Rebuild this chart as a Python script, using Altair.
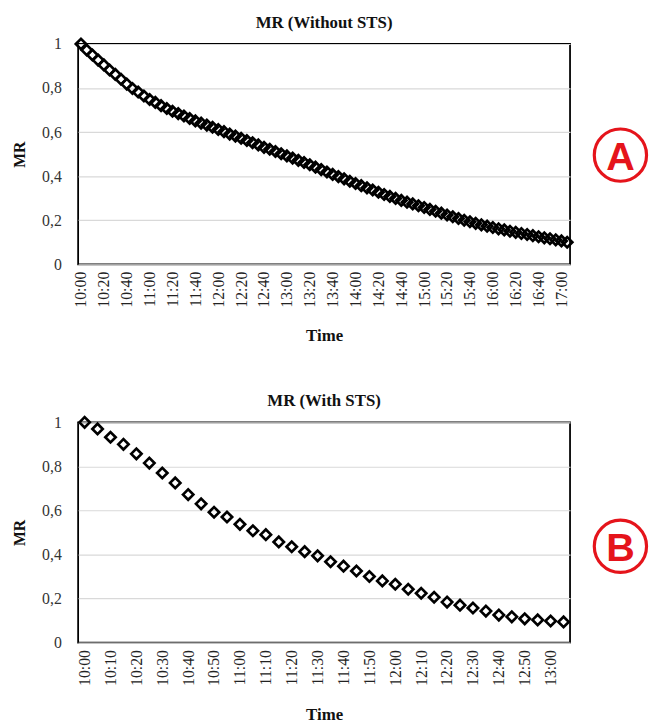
import altair as alt
import pandas as pd

# Panel A: MR without STS, 5-minute readings 10:00 - 17:05
times_a = [f"{10 + m // 60}:{m % 60:02d}" for m in range(0, 430, 5)]
mr_a = [1.000, 0.973, 0.950, 0.927, 0.905, 0.882, 0.862, 0.840, 0.818, 0.798,
        0.782, 0.764, 0.748, 0.735, 0.720, 0.707, 0.695, 0.684, 0.673, 0.662,
        0.651, 0.641, 0.632, 0.622, 0.612, 0.602, 0.591, 0.582, 0.572, 0.562,
        0.552, 0.542, 0.531, 0.522, 0.512, 0.502, 0.492, 0.482, 0.472, 0.462,
        0.452, 0.441, 0.430, 0.419, 0.408, 0.398, 0.388, 0.377, 0.367, 0.357,
        0.347, 0.337, 0.327, 0.317, 0.308, 0.299, 0.290, 0.282, 0.274, 0.266,
        0.258, 0.249, 0.241, 0.232, 0.224, 0.216, 0.208, 0.200, 0.193, 0.186,
        0.179, 0.173, 0.167, 0.161, 0.156, 0.150, 0.145, 0.140, 0.135, 0.130,
        0.125, 0.120, 0.116, 0.111, 0.106, 0.100]

# Panel B: MR with STS, 5-minute readings 10:00 - 13:05
times_b = [f"{10 + m // 60}:{m % 60:02d}" for m in range(0, 190, 5)]
mr_b = [1.000, 0.970, 0.932, 0.900, 0.857, 0.815, 0.770, 0.725, 0.672, 0.630,
        0.592, 0.570, 0.537, 0.508, 0.490, 0.457, 0.435, 0.413, 0.394, 0.367,
        0.347, 0.325, 0.300, 0.280, 0.265, 0.242, 0.224, 0.206, 0.184, 0.170,
        0.157, 0.143, 0.125, 0.117, 0.108, 0.103, 0.098, 0.094]

y_ticks = [0, 0.2, 0.4, 0.6, 0.8, 1.0]
SERIF = "Liberation Serif"
W, H = 498, 223
RED = "#e5141b"


def panel(times, mr, title, label_every, letter, ring_y):
    df = pd.DataFrame({"Time": times, "MR": mr})
    pts = alt.Chart(df).mark_point(
        shape="diamond", filled=False, color="black", strokeWidth=2.7, size=110, opacity=1
    ).encode(
        x=alt.X("Time:O", sort=None,
                scale=alt.Scale(type="point", padding=0.5),
                axis=alt.Axis(values=times[::label_every], labelAngle=-90,
                              labelFont=SERIF, labelFontSize=16, labelColor="#222",
                              labelPadding=7, ticks=False, domain=False, grid=False,
                              title="Time", titleFont=SERIF, titleFontSize=17,
                              titleFontWeight="bold", titleColor="#111", titlePadding=21)),
        y=alt.Y("MR:Q", scale=alt.Scale(domain=[0, 1]),
                axis=alt.Axis(values=y_ticks,
                              labelExpr="datum.value == 0 ? '0' : datum.value == 1 ? '1' : replace(format(datum.value, '.1f'), '.', ',')",
                              labelFont=SERIF, labelFontSize=16, labelColor="#333",
                              labelPadding=17, ticks=False, domain=False,
                              grid=True, gridColor="#d9d9d9", gridWidth=1.2,
                              title="MR", titleFont=SERIF, titleFontSize=16,
                              titleFontWeight="bold", titleColor="#111", titlePadding=14)),
    )
    ldf = pd.DataFrame({"letter": [letter]})
    ring = alt.Chart(ldf).mark_point(
        shape="circle", filled=False, color=RED, strokeWidth=3.2, size=2800, opacity=1
    ).encode(x=alt.value(W + 51), y=alt.value(ring_y))
    txt = alt.Chart(ldf).mark_text(
        font="Liberation Sans", fontWeight="bold", fontSize=40, color=RED,
        align="center", baseline="middle"
    ).encode(x=alt.value(W + 51), y=alt.value(ring_y + 3), text="letter:N")
    return alt.layer(pts, ring, txt).properties(
        width=W, height=H,
        title=alt.TitleParams(title, font=SERIF, fontSize=17, fontWeight="bold",
                              color="#111", offset=2, anchor="middle"),
    )


chart = alt.vconcat(
    panel(times_a, mr_a, "MR (Without STS)", 4, "A", H / 2 + 1),
    panel(times_b, mr_b, "MR (With STS)", 2, "B", H / 2 + 14),
    spacing=46,
).properties(
    padding={"left": 3, "top": 0, "right": 0, "bottom": 0}
).configure_view(
    stroke="black", strokeWidth=1.8
)

chart.save("out.html", embed_options={"renderer": "svg", "actions": False})
